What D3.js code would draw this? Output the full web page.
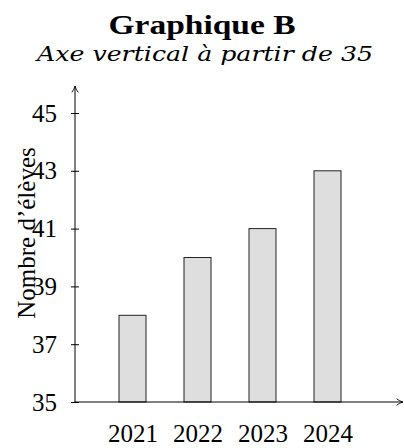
<!DOCTYPE html>
<html>
<head>
<meta charset="utf-8">
<script src="https://cdn.jsdelivr.net/npm/d3@7"></script>
<style>
  html, body { margin: 0; padding: 0; background: #fff; }
  text { font-family: "Liberation Serif", "DejaVu Serif", serif; fill: #000; }
</style>
</head>
<body>
<div id="chart"></div>
<script>
// data
var years = ["2021", "2022", "2023", "2024"];
var pupils = [38, 40, 41, 43];
var yTicks = [35, 37, 39, 41, 43, 45];

var W = 404, H = 448;

var svg = d3.select("#chart").append("svg")
    .attr("width", W)
    .attr("height", H);

// arrow head like the latex "->"
svg.append("defs").append("marker")
    .attr("id", "arr")
    .attr("viewBox", "0 0 10 10")
    .attr("refX", 9).attr("refY", 5)
    .attr("markerWidth", 8).attr("markerHeight", 8)
    .attr("markerUnits", "userSpaceOnUse")
    .attr("orient", "auto")
  .append("path")
    .attr("d", "M1,1 Q5,4 9,5 Q5,6 1,9")
    .attr("fill", "none")
    .attr("stroke", "#000")
    .attr("stroke-width", 1.1);

var x0 = 75, yBase = 402;

var y = d3.scaleLinear().domain([35, 45]).range([yBase, 113]);
var x = d3.scalePoint().domain(years).range([132.5, 327.5]);
var bw = 27;

// titles
svg.append("text")
    .attr("x", 202).attr("y", 34)
    .attr("text-anchor", "middle")
    .attr("font-weight", "bold")
    .attr("font-size", "28px")
    .attr("textLength", 187)
    .attr("lengthAdjust", "spacingAndGlyphs")
    .text("Graphique B");

svg.append("text")
    .attr("x", 205).attr("y", 61)
    .attr("text-anchor", "middle")
    .style("font-family", "'DejaVu Serif', serif")
    .style("font-style", "italic")
    .attr("font-size", "21px")
    .attr("textLength", 336)
    .attr("lengthAdjust", "spacingAndGlyphs")
    .text("Axe vertical à partir de 35");

// bars
svg.selectAll("rect.bar")
    .data(pupils)
    .enter().append("rect")
    .attr("class", "bar")
    .attr("x", function(d, i) { return x(years[i]) - bw / 2; })
    .attr("y", function(d) { return y(d); })
    .attr("width", bw)
    .attr("height", function(d) { return yBase - y(d); })
    .style("fill", "#dedede")
    .style("stroke", "#222")
    .style("stroke-width", 1);

// y axis
var yAxis = d3.axisLeft(y)
    .tickValues(yTicks)
    .tickSize(0)
    .tickPadding(18)
    .tickFormat(d3.format("d"));

var gy = svg.append("g")
    .attr("transform", "translate(" + x0 + ",0)")
    .call(yAxis);
gy.select(".domain").remove();
gy.selectAll(".tick text")
    .attr("font-size", "25px")
    .attr("font-family", "Liberation Serif, serif")
    .attr("fill", "#000");
gy.selectAll(".tick").append("line")
    .attr("x1", -4).attr("x2", 4)
    .attr("stroke", "#000");

svg.append("line")
    .attr("x1", x0).attr("y1", yBase + 0.5)
    .attr("x2", x0).attr("y2", 86)
    .attr("stroke", "#000")
    .attr("marker-end", "url(#arr)");

// x axis
var xAxis = d3.axisBottom(x).tickSize(0).tickPadding(22);
var gx = svg.append("g")
    .attr("transform", "translate(0," + yBase + ")")
    .call(xAxis);
gx.select(".domain").remove();
gx.selectAll(".tick text")
    .attr("font-size", "25px")
    .attr("font-family", "Liberation Serif, serif")
    .attr("fill", "#000");

svg.append("line")
    .attr("x1", x0 - 0.5).attr("y1", yBase)
    .attr("x2", 403).attr("y2", yBase)
    .attr("stroke", "#000")
    .attr("marker-end", "url(#arr)");

// axis title, overlapping the tick labels as in the original
svg.append("text")
    .attr("transform", "translate(35,233) rotate(-90)")
    .attr("text-anchor", "middle")
    .attr("font-size", "25px")
    .text("Nombre d\u2019élèves");
</script>
</body>
</html>
